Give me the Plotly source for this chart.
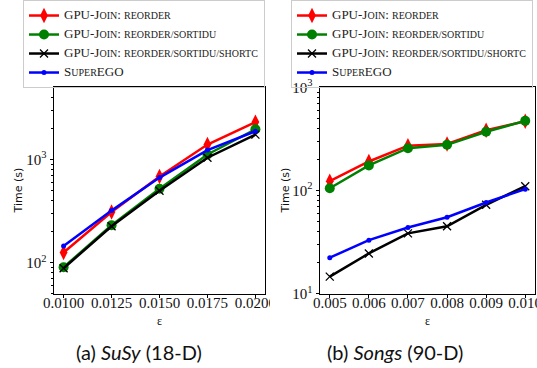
import plotly.graph_objects as go

W, H = 537, 368

# ---------------- data ----------------
eps_susy = [0.0100, 0.0125, 0.0150, 0.0175, 0.0200]
susy_reorder = [125, 309, 682, 1394, 2300]
susy_sortidu = [90, 230, 519, 1117, 1960]
susy_shortc = [88, 225, 497, 1038, 1740]
susy_superego = [145, 319, 667, 1231, 1875]

eps_songs = [0.005, 0.006, 0.007, 0.008, 0.009, 0.010]
songs_reorder = [123, 191, 272, 282, 384, 468]
songs_sortidu = [105, 175, 257, 277, 371, 473]
songs_shortc = [14.6, 24.5, 38.4, 45, 72.6, 110]
songs_superego = [22.3, 33, 43.8, 55, 76.5, 103]

ytick_vals = [10, 100, 1000]
ytick_text = ["10<sup>1</sup>", "10<sup>2</sup>", "10<sup>3</sup>"]

BIG = "<span style='font-size:13px'>%s</span>"
series_names = [
    BIG % "GPU-J" + "OIN" + BIG % ": " + "REORDER",
    BIG % "GPU-J" + "OIN" + BIG % ": " + "REORDER/SORTIDU",
    BIG % "GPU-J" + "OIN" + BIG % ": " + "REORDER/SORTIDU/SHORTC",
    BIG % "S" + "UPER" + BIG % "EGO",
]
captions = ["(a) <i>SuSy</i> (18-D)", "(b) <i>Songs</i> (90-D)"]
x_title = "ε"
y_title = "Time (s)"

styles = [
    dict(color="#ff0000", marker=dict(symbol="diamond-tall", size=11, color="#ff0000")),
    dict(color="#008000", marker=dict(symbol="circle", size=10, color="#008000")),
    dict(color="#000000", marker=dict(symbol="x-thin", size=8, color="#000000",
                                      line=dict(width=1.3, color="#000000"))),
    dict(color="#0000ff", marker=dict(symbol="circle", size=5, color="#0000ff")),
]

fig = go.Figure()

panels = [
    (eps_susy, [susy_reorder, susy_sortidu, susy_shortc, susy_superego], "x", "y", "legend"),
    (eps_songs, [songs_reorder, songs_sortidu, songs_shortc, songs_superego], "x2", "y2", "legend2"),
]
for xs, ys_list, xa, ya, lg in panels:
    for name, ys, st in zip(series_names, ys_list, styles):
        fig.add_trace(go.Scatter(
            x=xs, y=ys, name=name, mode="lines+markers",
            line=dict(color=st["color"], width=2.5),
            marker=st["marker"], xaxis=xa, yaxis=ya, legend=lg,
        ))

serif = "Liberation Serif"
axis_common = dict(
    showline=True, mirror=True, linecolor="black", linewidth=1,
    ticks="outside", ticklen=3.5, tickwidth=1, tickcolor="black",
    showgrid=False, zeroline=False, automargin=False,
    tickfont=dict(family=serif, size=15, color="#111"),
)
xaxis_common = dict(axis_common, ticklabelstandoff=-8, ticklabeloverflow="allow")
yaxis_common = dict(axis_common, type="log", tickvals=ytick_vals, ticktext=ytick_text,
                    minor=dict(ticks="outside", ticklen=2, tickcolor="black", dtick="D1", showgrid=False))

ydom = [1 - 293 / H, 1 - 85 / H]
legend_common = dict(y=1 + 3 / H, xanchor="left", yanchor="top",
                     bordercolor="#cccccc", borderwidth=1, bgcolor="rgba(255,255,255,0)",
                     font=dict(family=serif, size=10, color="#222"), tracegroupgap=0)
fig.update_layout(
    width=W, height=H,
    margin=dict(l=0, r=0, t=0, b=0),
    paper_bgcolor="white", plot_bgcolor="white",
    xaxis=dict(xaxis_common, domain=[54 / W, 265 / W], range=[0.0095, 0.0205],
               tickvals=eps_susy, tickformat=".4f"),
    yaxis=dict(yaxis_common, domain=ydom, range=[1.699, 3.699]),
    xaxis2=dict(xaxis_common, domain=[320 / W, 535 / W], range=[0.00475, 0.01025],
                tickvals=eps_songs, tickformat=".3f", anchor="y2"),
    yaxis2=dict(yaxis_common, domain=ydom, range=[1, 3], anchor="x2"),
    legend=dict(legend_common, x=23 / W),
    legend2=dict(legend_common, x=291 / W),
    showlegend=True,
)

annots = []
for cx in [(54 + 265) / 2, (320 + 535) / 2]:
    annots.append(dict(text=x_title, x=cx / W, y=1 - 321 / H, xref="paper", yref="paper",
                       showarrow=False, xanchor="center", yanchor="middle",
                       font=dict(family=serif, size=12, color="#111")))
for tx in [18, 285]:
    annots.append(dict(text=y_title, x=tx / W, y=1 - 189 / H, xref="paper", yref="paper",
                       showarrow=False, xanchor="center", yanchor="middle", textangle=-90,
                       font=dict(family="DejaVu Sans", size=11, color="#111")))
for cx, cap in zip([139, 395], captions):
    annots.append(dict(text=cap, x=cx / W, y=1 - 352 / H, xref="paper", yref="paper",
                       showarrow=False, xanchor="center", yanchor="middle",
                       font=dict(family="Lato", size=20, color="#111")))
fig.update_layout(annotations=annots)

# clip the last left tick label at the panel boundary, as in the source figure
fig.add_shape(type="rect", xref="paper", yref="paper", x0=270 / W, x1=283 / W,
              y0=1 - 314 / H, y1=1 - 293.5 / H, fillcolor="white", line=dict(width=0),
              layer="above")

fig.write_html("out.html", config={"displayModeBar": False},
               post_script="document.body.style.margin='0';")
